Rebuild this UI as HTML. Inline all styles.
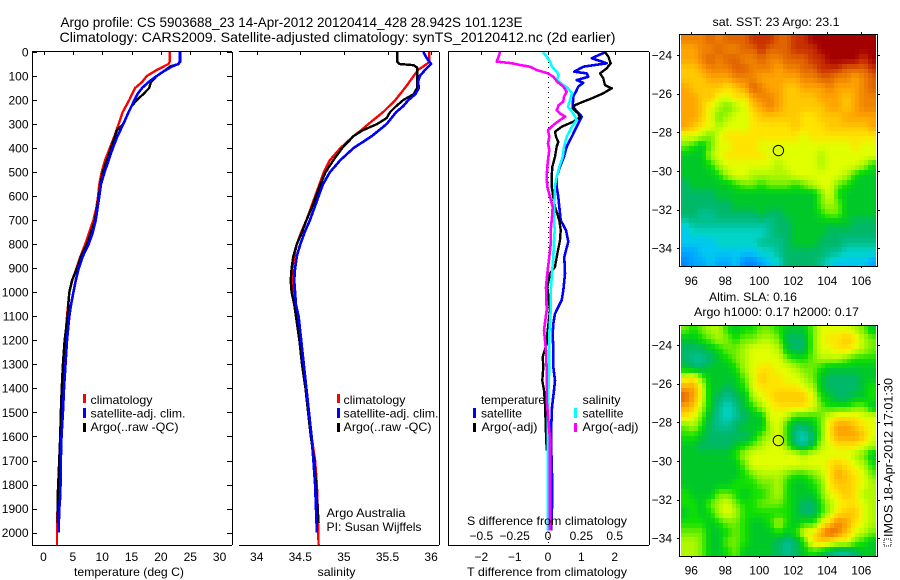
<!DOCTYPE html>
<html>
<head>
<meta charset="utf-8">
<title>Argo profile chart</title>
<style>
html,body{margin:0;padding:0;background:#fff;}
svg{display:block;}
text{font-family:"Liberation Sans",Arial,sans-serif;font-size:12px;fill:#000;}
</style>
</head>
<body>
<svg id="chart" xmlns="http://www.w3.org/2000/svg" width="900" height="580" viewBox="0 0 900 580">
  <rect x="0" y="0" width="900" height="580" fill="#fff"/>
  <text x="60.5" y="27" style="font-size:14px" textLength="462" lengthAdjust="spacingAndGlyphs">Argo profile: CS 5903688_23 14-Apr-2012 20120414_428 28.942S 101.123E</text>
  <text x="59.5" y="42" style="font-size:14px" textLength="556" lengthAdjust="spacingAndGlyphs">Climatology: CARS2009. Satellite-adjusted climatology: synTS_20120412.nc (2d earlier)</text>

  <g id="p1"></g>
  <g id="p2"></g>
  <g id="p3"></g>
  <g id="m1"></g>
  <g id="m2"></g>

  <text x="74" y="576" textLength="110" lengthAdjust="spacingAndGlyphs">temperature (deg C)</text>
  <text x="317.5" y="576" textLength="38" lengthAdjust="spacingAndGlyphs">salinity</text>

  <g>
    <rect x="83" y="394" width="3" height="9" fill="#f00"/>
    <rect x="83" y="408" width="3" height="10" fill="#00f"/>
    <rect x="83" y="423" width="3" height="9" fill="#000"/>
    <text x="90.5" y="404" textLength="62" lengthAdjust="spacingAndGlyphs">climatology</text>
    <text x="90.5" y="417.5" textLength="95" lengthAdjust="spacingAndGlyphs">satellite-adj. clim.</text>
    <text x="90.5" y="431" textLength="88" lengthAdjust="spacingAndGlyphs">Argo(..raw -QC)</text>
  </g>
  <g>
    <rect x="337" y="394" width="3" height="9" fill="#f00"/>
    <rect x="337" y="408" width="3" height="10" fill="#00f"/>
    <rect x="337" y="423" width="3" height="9" fill="#000"/>
    <text x="343.5" y="404" textLength="62" lengthAdjust="spacingAndGlyphs">climatology</text>
    <text x="343.5" y="417.5" textLength="95" lengthAdjust="spacingAndGlyphs">satellite-adj. clim.</text>
    <text x="343.5" y="431" textLength="88" lengthAdjust="spacingAndGlyphs">Argo(..raw -QC)</text>
  </g>
  <text x="326.5" y="517" textLength="79" lengthAdjust="spacingAndGlyphs">Argo Australia</text>
  <text x="326.5" y="531" textLength="95" lengthAdjust="spacingAndGlyphs">PI: Susan Wijffels</text>

  <g>
    <text x="481" y="404" textLength="64" lengthAdjust="spacingAndGlyphs">temperature</text>
    <text x="582.5" y="404" textLength="38" lengthAdjust="spacingAndGlyphs">salinity</text>
    <rect x="473" y="408" width="3" height="10" fill="#00f"/>
    <rect x="473" y="423" width="3" height="9" fill="#000"/>
    <rect x="574" y="408" width="3" height="10" fill="#0ff"/>
    <rect x="574" y="423" width="3" height="9" fill="#f0f"/>
    <text x="481" y="417.5" textLength="41" lengthAdjust="spacingAndGlyphs">satellite</text>
    <text x="481.5" y="431" textLength="56" lengthAdjust="spacingAndGlyphs">Argo(-adj)</text>
    <text x="582.5" y="417.5" textLength="41" lengthAdjust="spacingAndGlyphs">satellite</text>
    <text x="582.5" y="431" textLength="56" lengthAdjust="spacingAndGlyphs">Argo(-adj)</text>
  </g>
  <text x="467" y="525" textLength="160" lengthAdjust="spacingAndGlyphs">S difference from climatology</text>
  <text x="467" y="576" textLength="160" lengthAdjust="spacingAndGlyphs">T difference from climatology</text>

  <text x="712.5" y="26" textLength="127" lengthAdjust="spacingAndGlyphs">sat. SST: 23 Argo: 23.1</text>
  <text x="709" y="301" textLength="88" lengthAdjust="spacingAndGlyphs">Altim. SLA: 0.16</text>
  <text x="694" y="316" textLength="165" lengthAdjust="spacingAndGlyphs">Argo h1000: 0.17 h2000: 0.17</text>

  <rect x="884" y="539" width="7" height="7" fill="none" stroke="#000" stroke-width="1" stroke-dasharray="1,1" shape-rendering="crispEdges"/>
  <text transform="translate(892.5,537) rotate(-90)" x="0" y="0" textLength="159" lengthAdjust="spacingAndGlyphs">IMOS 18-Apr-2012 17:01:30</text>
</svg>

<script>
// ---------- axis tick labels ----------
const depthTicks = [0,100,200,300,400,500,600,700,800,900,1000,1100,1200,1300,1400,1500,1600,1700,1800,1900,2000];
const tempTicks = [0,5,10,15,20,25,30];
const salTicks = [34,34.5,35,35.5,36];
const tDiffTicks = [-2,-1,0,1,2];
const sDiffTicks = [-0.5,-0.25,0,0.25,0.5];
const lonTicks = [96,98,100,102,104,106];
const latTicks = [-24,-26,-28,-30,-32,-34];

// ---------- temperature profiles ----------
const tempClimDepth = [0,40,50,60,75,100,125,150,200,250,300,350,400,450,500,550,600,650,700,750,800,850,900,950,1000,1100,1200,1300,1400,1500,1600,1700,1750,1800,1900,1950,2055];
const tempClim = [21.5,21.5,21.3,20.5,19.3,17.6,16.8,15.6,14.6,13.5,12.8,12.1,11.3,10.5,9.9,9.5,9.3,9,8.5,7.8,7.1,6.3,5.6,4.9,4.4,4.0,3.7,3.4,3.2,3.0,2.9,2.7,2.6,2.55,2.4,2.3,2.3];
const tempSatDepth = [0,40,50,60,80,100,125,150,175,200,250,300,350,400,450,500,550,600,650,700,750,800,850,900,950,1000,1050,1100,1200,1300,1400,1500,1600,1700,1800,1850,1900,2000];
const tempSat = [23.2,23.2,23,21.9,20.5,19.3,17.9,16.8,16,15.5,14.5,13.6,12.6,11.8,11.1,10.4,9.8,9.5,9.2,8.9,8.4,7.7,6.7,6,5.5,5.1,4.7,4.4,4,3.75,3.5,3.3,3.07,2.95,2.9,2.85,2.7,2.55];
const tempArgoDepth = [0,40,50,60,80,100,125,150,175,200,225,250,300,325,350,400,450,500,550,600,650,700,750,800,850,900,950,1000,1050,1100,1200,1300,1400,1500,1600,1700,1800,1850,1960];
const tempArgo = [23.3,23.3,23,21.6,20.5,19.3,18.3,18,17,15.9,15,14.5,13.6,12.5,12.2,11.5,10.8,10.1,9.7,9.4,9.1,8.75,8.1,7.4,6.4,5.7,4.85,4.4,4.25,4.1,3.6,3.3,3.1,2.95,2.85,2.67,2.5,2.4,2.4];

// ---------- salinity profiles ----------
const salClimDepth = [0,40,50,75,100,150,200,250,300,325,350,400,450,500,550,600,650,700,750,800,850,900,950,1000,1050,1100,1200,1300,1400,1500,1600,1700,1800,1900,2055];
const salClim = [35.98,35.98,35.95,35.85,35.8,35.7,35.59,35.45,35.28,35.2,35.11,34.96,34.84,34.77,34.72,34.67,34.62,34.57,34.51,34.46,34.43,34.41,34.41,34.42,34.44,34.47,34.5,34.54,34.57,34.59,34.63,34.67,34.69,34.7,34.71];
const salSatDepth = [0,25,50,75,100,125,150,175,200,225,250,300,350,400,450,500,550,600,650,700,750,800,850,900,950,1000,1050,1100,1200,1300,1400,1500,1600,1700,1800,1900,2000];
const salSat = [35.91,35.95,36,35.93,35.87,35.85,35.86,35.82,35.74,35.68,35.6,35.49,35.32,35.11,34.96,34.84,34.76,34.71,34.66,34.61,34.55,34.5,34.46,34.44,34.43,34.44,34.45,34.48,34.51,34.54,34.57,34.6,34.63,34.65,34.67,34.68,34.69];
const salArgoDepth = [0,40,50,55,65,100,150,175,200,225,250,275,300,325,350,400,450,500,550,600,650,700,750,800,850,900,950,1000,1050,1100,1200,1300,1400,1500,1600,1700,1800,1900,1960];
const salArgo = [35.61,35.61,35.64,35.8,35.84,35.84,35.84,35.8,35.68,35.6,35.53,35.49,35.38,35.22,35.11,34.98,34.88,34.79,34.73,34.68,34.63,34.57,34.52,34.46,34.42,34.4,34.39,34.4,34.43,34.45,34.49,34.52,34.56,34.59,34.62,34.66,34.68,34.7,34.71];

// ---------- difference profiles ----------
const dTempSatDepth = [0,26,47,61,82,89,103,117,128,144,158,186,228,269,311,353,394,436,478,519,561,603,644,700,742,790,825,853,922,992,1033,1089,1131,1172,1242,1311,1367,1408,1478,1589,1728,1783,1867,1992];
const dTempSat = [1.73,1.31,1.76,1.06,0.79,1.16,1.21,0.86,1.06,0.91,0.86,0.76,0.74,1.01,0.86,0.71,0.56,0.48,0.36,0.26,0.26,0.31,0.34,0.38,0.54,0.61,0.54,0.49,0.51,0.46,0.41,0.21,0.16,0.14,0.16,0.16,0.21,0.18,0.12,0.09,0.11,0.13,0.13,0.09];
const dTempArgoDepth = [0,19,47,68,89,110,138,151,172,193,207,221,235,256,272,290,311,332,353,374,394,436,478,519,561,603,644,700,742,783,853,894,922,978,1075,1172,1214,1269,1311,1367,1408,1464,1589,1658];
const dTempArgo = [1.71,1.81,1.88,1.76,1.56,1.66,1.71,1.91,1.66,1.31,1.06,0.81,0.74,0.91,0.96,0.76,0.41,0.21,0.24,0.31,0.26,0.21,0.13,0.11,0.11,0.16,0.21,0.34,0.38,0.36,0.26,0.21,0.06,-0.02,0.06,-0.02,-0.04,-0.16,-0.14,-0.17,-0.12,-0.09,-0.06,-0.04];
const dSalSatDepth = [0,19,40,61,82,96,117,131,151,172,200,228,256,283,311,353,394,436,478,519,561,603,644,700,742,783,853,922,992,1075,1172,1311,1450,1589,1728,1783,1992];
const dSalSat = [-0.04,-0.01,0.015,0.03,0.065,0.08,0.065,0.1,0.15,0.18,0.165,0.15,0.19,0.215,0.18,0.14,0.12,0.11,0.085,0.065,0.05,0.05,0.045,0.045,0.05,0.045,0.04,0.03,0.02,0.02,0.01,0.01,0,0,0,-0.003,-0.003];
const dSalArgoDepth = [0,19,40,47,54,61,75,89,103,124,144,165,186,207,221,242,256,269,283,304,325,353,381,408,450,478,519,561,603,644,686,742,797,853,922,978,1075,1116,1158,1242,1325,1450,1610,1708,1992];
const dSalArgo = [-0.36,-0.37,-0.385,-0.27,-0.21,-0.135,-0.085,0,0.04,0.07,0.115,0.14,0.12,0.115,0.08,0.065,0.09,0.13,0.09,0.04,0,0.01,0,0.01,0,-0.005,-0.01,-0.005,0.015,0.035,0.03,0.02,0.02,0.01,-0.005,-0.015,-0.01,-0.02,-0.03,-0.015,-0.01,-0.01,0.015,0.015,0.015];

// ---------- map colour levels (rows north to south, columns west to east, 0.5 degree) ----------
const sstLevels = [
[14,14,14,15,14,15,15,15,16,16,16,15,15,16,16,17,17,17,17,17,17,17,17],
[13,13,14,14,15,14,14,15,15,16,15,15,15,16,16,16,17,17,17,17,17,17,17],
[13,13,14,15,14,15,15,14,14,15,14,14,15,15,15,16,16,17,17,17,17,16,17],
[12,12,13,14,14,14,15,15,14,14,14,13,14,14,15,15,16,16,16,15,15,15,16],
[12,12,12,13,13,13,14,14,14,13,13,13,13,13,14,14,15,15,14,14,13,14,15],
[13,12,12,12,12,11,12,13,15,14,13,13,12,12,13,13,13,14,13,13,13,14,15],
[13,13,12,12,10,10,11,11,13,14,14,13,12,12,12,12,13,13,13,12,13,14,14],
[13,13,12,10,9,8,9,10,12,13,14,13,12,12,12,12,12,13,13,12,13,14,14],
[13,13,12,10,8,9,10,10,11,12,12,12,12,12,11,11,12,12,12,13,13,13,13],
[13,12,11,10,9,10,10,10,11,11,11,11,11,12,11,11,11,12,12,12,12,12,13],
[10,10,9,8,10,11,11,11,11,11,11,11,11,11,10,11,11,11,11,11,11,11,11],
[8,7,6,8,10,10,11,11,11,10,10,10,10,10,10,10,10,10,10,10,11,10,10],
[6,6,6,9,10,11,11,11,11,11,10,10,10,10,10,10,9,10,10,10,10,10,10],
[6,6,6,7,9,10,10,10,10,10,10,9,10,10,10,10,9,10,10,10,10,9,7],
[6,6,6,6,7,9,10,10,9,9,9,9,9,10,10,10,10,10,10,9,7,6,6],
[5,6,6,6,6,6,7,8,8,7,8,8,8,7,8,9,10,10,8,7,6,6,6],
[5,5,5,5,6,6,6,6,6,6,6,6,6,6,6,6,8,10,7,6,6,6,6],
[5,5,5,5,5,5,6,6,6,6,6,6,6,6,6,6,8,9,8,6,6,6,6],
[5,5,4,4,5,5,5,5,5,6,5,5,6,6,6,6,7,8,8,6,6,6,6],
[3,4,4,4,4,4,4,4,4,4,4,5,5,6,6,6,6,6,6,6,5,5,5],
[2,3,3,3,3,3,3,3,3,3,4,5,5,6,6,6,6,5,5,5,5,5,5],
[2,2,2,2,3,3,3,3,3,4,4,4,5,6,6,6,5,5,5,4,4,4,4],
[1,1,2,2,2,2,2,2,2,3,3,4,5,5,5,5,5,4,4,3,3,3,3],
[0,1,1,2,1,1,2,0,0,1,2,3,5,5,5,5,4,3,2,2,2,2,1]
];
const slaLevels = [
[8,7,8,9,9,7,6,7,7,8,8,7,6,6,6,8,10,10,10,10,9,8,6],
[6,6,7,8,9,8,7,8,8,9,9,8,5,5,5,8,10,11,11,12,11,9,8],
[5,5,5,6,7,8,8,9,10,10,10,9,6,5,5,8,10,10,11,11,10,9,8],
[5,4,4,5,6,7,8,9,10,10,10,10,8,7,7,8,9,9,9,8,7,7,7],
[6,5,5,6,6,6,7,9,10,11,11,10,10,9,8,8,7,6,6,6,6,6,6],
[10,11,8,6,6,6,6,8,10,12,11,11,10,10,9,8,6,5,5,5,5,6,6],
[13,13,10,6,6,5,6,7,10,11,11,11,11,11,10,9,6,5,5,5,5,6,7],
[15,13,10,6,5,4,5,6,9,10,11,12,12,12,12,10,7,6,5,5,6,6,7],
[13,12,9,6,4,3,4,6,7,9,10,11,11,11,11,10,8,7,7,7,8,8,6],
[11,10,8,5,4,3,4,5,6,6,10,10,9,7,7,7,8,10,11,11,11,10,10],
[8,9,7,5,4,4,5,6,6,6,9,10,7,5,5,6,8,11,13,13,12,11,10],
[7,7,6,5,5,5,5,5,6,8,9,10,7,4,3,5,8,11,13,13,13,12,10],
[6,6,5,5,5,5,6,7,8,9,10,10,8,5,4,6,9,10,11,11,11,10,9],
[6,6,6,6,6,6,7,9,10,10,10,10,10,10,9,10,10,10,10,10,9,8,6],
[6,6,6,6,6,6,6,8,10,10,10,10,10,10,10,10,10,11,12,11,10,9,7],
[6,6,6,6,6,6,6,7,8,9,9,9,8,7,7,8,9,11,13,12,11,10,8],
[6,6,6,6,6,6,7,7,7,8,8,9,7,6,6,7,8,11,12,12,11,10,9],
[7,6,6,6,8,8,7,6,7,7,8,9,7,6,6,6,8,10,11,12,11,9,9],
[7,7,6,8,9,10,8,7,7,8,8,8,7,6,5,5,7,9,10,11,11,10,9],
[6,7,6,7,9,10,9,7,7,7,7,7,7,6,5,5,7,9,11,12,12,10,9],
[7,7,7,6,7,8,8,7,6,6,7,9,7,6,7,7,10,12,14,13,11,10,9],
[8,8,8,6,6,7,8,7,6,6,6,7,6,7,10,11,13,15,14,12,10,9,8],
[9,9,8,6,6,8,8,7,6,6,6,5,4,5,7,11,12,11,10,10,8,7,6],
[9,9,8,6,6,7,8,6,6,6,6,5,4,5,6,7,6,5,4,4,5,6,6]
];
const levelColors = ['#0088ff','#00a8ff','#00c8f0','#00d4c8','#00c090','#00b868','#00c828','#10e000','#70ee00','#b0f800','#e0ff00','#ffe400','#ffc800','#ffa400','#f08400','#e06400','#c83000','#a40000'];
const argoLon = 101.123;
const argoLat = -28.942;

// ---------- axis functions ----------
const NS = 'http://www.w3.org/2000/svg';
const TOP = 52, BOTTOM = 545;
function yDepth(d){ return 52 + 0.2403 * d; }
function xTemp(v){ return 43.5 + 5.87 * v; }
function xSal(v){ return 256.7 + 87.2 * (v - 34); }
function xTDiff(v){ return 548 + 33.33 * v; }
function xSDiff(v){ return 548 + 133.33 * v; }
function xLon(v){ return 691.3 + 17 * (v - 96); }
function yLat1(v){ return 55 + 19.33 * (-24 - v); }
function yLat2(v){ return 345 + 19.33 * (-24 - v); }

function mk(tag, parent, attrs){
  const el = document.createElementNS(NS, tag);
  for (const k in attrs) el.setAttribute(k, attrs[k]);
  parent.appendChild(el);
  return el;
}
function hline(parent, x1, x2, y){
  const el = mk('line', parent, {x1:x1, x2:x2, y1:y, y2:y, stroke:'#000', 'stroke-width':1, 'shape-rendering':'crispEdges'});
  
  
  return el;
}
function vline(parent, x, y1, y2){
  const el = mk('line', parent, {x1:x, x2:x, y1:y1, y2:y2, stroke:'#000', 'stroke-width':1, 'shape-rendering':'crispEdges'});
  
  
  return el;
}
function tickLabel(parent, x, y, str, anchor){
  const el = mk('text', parent, {x:x, y:y, 'text-anchor':anchor});
  el.textContent = str;
  
  
  return el;
}
function minus(v){ return String(v).replace('-', '\u2212'); }
function profile(parent, name, depths, values, xf, color, w){
  const pts = values.map(function(v, i){ return xf(v).toFixed(1) + ',' + yDepth(depths[i]).toFixed(1); }).join(' ');
  const el = mk('polyline', parent, {points:pts, fill:'none', stroke:color, 'stroke-width':w, 'stroke-linejoin':'round', 'shape-rendering':'crispEdges'});
  
  
  return el;
}
function topTicks(parent, ticks, xf){
  ticks.forEach(function(t){ vline(parent, Math.round(xf(t)) + 0.5, TOP, TOP + 3); });
}

// ---------- temperature panel ----------
const p1 = document.getElementById('p1');
profile(p1, 'temperature-climatology-line', tempClimDepth, tempClim, xTemp, '#f00', 2.4);
profile(p1, 'temperature-argo-line', tempArgoDepth, tempArgo, xTemp, '#000', 2.4);
profile(p1, 'temperature-satellite-line', tempSatDepth, tempSat, xTemp, '#00f', 2.6);
hline(p1, 32, 232, TOP - 0.5);
hline(p1, 32, 232, BOTTOM + 0.5);
vline(p1, 32.5, TOP, BOTTOM);
vline(p1, 232.5, TOP, BOTTOM);
depthTicks.forEach(function(d){
  const y = Math.round(yDepth(d)) + 0.5;
  hline(p1, 32, 37, y);
  hline(p1, 227, 232, y);
  tickLabel(p1, 28.5, yDepth(d) + 4.3, String(d), 'end');
});
topTicks(p1, tempTicks, xTemp);
tempTicks.forEach(function(t){ tickLabel(p1, xTemp(t), 561, String(t), 'middle'); });

// ---------- salinity panel ----------
const p2 = document.getElementById('p2');
profile(p2, 'salinity-climatology-line', salClimDepth, salClim, xSal, '#f00', 2.4);
profile(p2, 'salinity-argo-line', salArgoDepth, salArgo, xSal, '#000', 2.4);
profile(p2, 'salinity-satellite-line', salSatDepth, salSat, xSal, '#00f', 2.6);
hline(p2, 239, 439, TOP - 0.5);
hline(p2, 239, 439, BOTTOM + 0.5);
vline(p2, 439.5, TOP, BOTTOM);
topTicks(p2, salTicks, xSal);
salTicks.forEach(function(t){ tickLabel(p2, xSal(t), 561, String(t), 'middle'); });

// ---------- difference panel ----------
const p3 = document.getElementById('p3');
const zeroLine = mk('line', p3, {x1:548.5, x2:548.5, y1:TOP, y2:BOTTOM, stroke:'#000', 'stroke-width':1, 'stroke-dasharray':'1,4', 'shape-rendering':'crispEdges'});


profile(p3, 'temp-diff-satellite-line', dTempSatDepth, dTempSat, xTDiff, '#00f', 2.6);
profile(p3, 'temp-diff-argo-line', dTempArgoDepth, dTempArgo, xTDiff, '#000', 2.4);
profile(p3, 'sal-diff-satellite-line', dSalSatDepth, dSalSat, xSDiff, '#0ff', 2.6);
profile(p3, 'sal-diff-argo-line', dSalArgoDepth, dSalArgo, xSDiff, '#f0f', 2.6);
hline(p3, 448, 649, TOP - 0.5);
hline(p3, 448, 649, BOTTOM + 0.5);
vline(p3, 448.5, TOP, BOTTOM);
vline(p3, 649.5, TOP, BOTTOM);
topTicks(p3, tDiffTicks, xTDiff);
tDiffTicks.forEach(function(t){ tickLabel(p3, xTDiff(t), 561, minus(t), 'middle'); });
sDiffTicks.forEach(function(t){ tickLabel(p3, xSDiff(t), 540, minus(t), 'middle'); });

// ---------- maps ----------
function hexToRgb(h){
  return [parseInt(h.slice(1,3),16), parseInt(h.slice(3,5),16), parseInt(h.slice(5,7),16)];
}
function levelColor(level){
  const i = Math.max(0, Math.min(levelColors.length - 2, Math.floor(level)));
  const f = Math.max(0, Math.min(1, level - i));
  const a = hexToRgb(levelColors[i]);
  const b = hexToRgb(levelColors[i + 1]);
  return 'rgb(' + [0,1,2].map(function(k){ return Math.round(a[k] + (b[k] - a[k]) * f); }).join(',') + ')';
}
function sampleLevel(levels, rowPos, colPos){
  const nr = levels.length, nc = levels[0].length;
  const rp = Math.max(0, Math.min(nr - 1, rowPos));
  const cp = Math.max(0, Math.min(nc - 1, colPos));
  const r0 = Math.floor(rp), c0 = Math.floor(cp);
  const r1 = Math.min(nr - 1, r0 + 1), c1 = Math.min(nc - 1, c0 + 1);
  const fr = rp - r0, fc = cp - c0;
  const top = levels[r0][c0] * (1 - fc) + levels[r0][c1] * fc;
  const bot = levels[r1][c0] * (1 - fc) + levels[r1][c1] * fc;
  return top * (1 - fr) + bot * fr;
}
function drawMap(parent, levels, yLat, frameTop, frameBottom, labelY){
  const lonStart = 95.39, latStart = -22.95, step = 0.25;
  const rows = levels.length * 2, cols = levels[0].length * 2;
  for (let r = 0; r < rows; r++){
    for (let c = 0; c < cols; c++){
      const level = sampleLevel(levels, (r + 0.5) / 2 - 0.5, (c + 0.5) / 2 - 0.5);
      const x0 = Math.round(xLon(lonStart + c * step));
      const x1 = Math.round(xLon(lonStart + (c + 1) * step));
      const y0 = Math.round(yLat(latStart - r * step));
      const y1 = Math.round(yLat(latStart - (r + 1) * step));
      const cell = mk('rect', parent, {x:x0, y:y0, width:x1 - x0, height:y1 - y0, fill:levelColor(level), 'shape-rendering':'crispEdges'});
      
      
    }
  }
  hline(parent, 679, 878, frameTop + 0.5);
  hline(parent, 679, 878, frameBottom + 0.5);
  vline(parent, 679.5, frameTop, frameBottom);
  vline(parent, 877.5, frameTop, frameBottom);
  lonTicks.forEach(function(t){
    const x = Math.round(xLon(t)) + 0.5;
    vline(parent, x, frameTop - 2, frameTop);
    vline(parent, x, frameBottom, frameBottom + 2);
    tickLabel(parent, xLon(t), labelY, String(t), 'middle');
  });
  latTicks.forEach(function(t){
    const y = Math.round(yLat(t)) + 0.5;
    hline(parent, 677, 679, y);
    hline(parent, 878, 880, y);
    tickLabel(parent, 672, yLat(t) + 4.3, minus(t), 'end');
  });
  const marker = mk('circle', parent, {cx:xLon(argoLon), cy:yLat(argoLat), r:5.2, fill:'none', stroke:'#000', 'stroke-width':1});
  
  
}
drawMap(document.getElementById('m1'), sstLevels, yLat1, 34, 266, 285);
drawMap(document.getElementById('m2'), slaLevels, yLat2, 325, 556, 574.5);
</script>
</body>
</html>
